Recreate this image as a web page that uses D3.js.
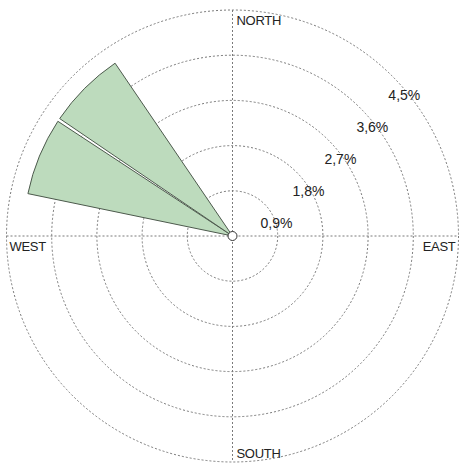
<!DOCTYPE html>
<html>
<head>
<meta charset="utf-8">
<script src="https://cdn.jsdelivr.net/npm/d3@7"></script>
<style>
html,body{margin:0;padding:0;background:#fff;}
svg{display:block;}
</style>
</head>
<body>
<svg id="chart" width="460" height="463"></svg>
<script>
// ---- data ----
const directions = ["N","NNE","NE","ENE","E","ESE","SE","SSE","S","SSW","SW","WSW","W","WNW","NW","NNW"];
const frequencies = [0,0,0,0,0,0,0,0,0,0,0,0,0,4.16,4.16,0];
const ringValues = [0.9,1.8,2.7,3.6,4.5];
const ringLabels = ["0,9%","1,8%","2,7%","3,6%","4,5%"];
const cardinalNames = ["NORTH","EAST","SOUTH","WEST"];

// ---- layout ----
const svg = d3.select("#chart");
const cx = 232.5, cy = 236, R = 226;
const r = d3.scaleLinear().domain([0, 4.5]).range([0, R]);
const step = 2 * Math.PI / directions.length;
const pad = 0.45 * Math.PI / 180;

const g = svg.append("g").attr("transform", `translate(${cx},${cy})`);

// grid circles
g.selectAll("circle.ring").data(ringValues).join("circle")
  .attr("class","ring")
  .attr("r", d => r(d))
  .attr("fill","none")
  .attr("stroke","#7a7a7a")
  .attr("stroke-width",1)
  .attr("stroke-dasharray","2,2");

// axes lines
g.append("line").attr("x1",0).attr("x2",0).attr("y1",-R).attr("y2",R)
  .attr("stroke","#7a7a7a").attr("stroke-width",1).attr("stroke-dasharray","2,2");
g.append("line").attr("x1",-R).attr("x2",R).attr("y1",0).attr("y2",0)
  .attr("stroke","#7a7a7a").attr("stroke-width",1).attr("stroke-dasharray","2,2");

// petals
const arc = d3.arc().innerRadius(0);
g.selectAll("path.petal").data(directions.map((d,i)=>({dir:d, v:frequencies[i], i})).filter(d=>d.v>0))
  .join("path")
  .attr("class","petal")
  .attr("d", d => arc({outerRadius: r(d.v), startAngle: d.i*step - step/2 + pad, endAngle: d.i*step + step/2 - pad}))
  .attr("fill","#bddbbd")
  .attr("stroke","#4d5a4d")
  .attr("stroke-width",1);

// center circle
g.append("circle").attr("r",4.5).attr("fill","#fff").attr("stroke","#333").attr("stroke-width",1);

// ring labels
const k = Math.SQRT1_2;
g.selectAll("text.rl").data(ringValues).join("text")
  .attr("class","rl")
  .attr("x", d => r(d)*k + 12)
  .attr("y", d => -r(d)*k + 24)
  .attr("text-anchor","middle")
  .attr("font-family","Liberation Sans, Arial, sans-serif")
  .attr("font-size",14)
  .attr("fill","#222")
  .text((d,i) => ringLabels[i]);

// cardinal labels
const cardPos = [
  {x: 4, y: -R + 15, anchor: "start"},
  {x: R - 3, y: 15, anchor: "end"},
  {x: 4, y: R - 4, anchor: "start"},
  {x: -R + 3, y: 15, anchor: "start"}
];
g.selectAll("text.card").data(cardinalNames).join("text")
  .attr("class","card")
  .attr("x", (d,i) => cardPos[i].x)
  .attr("y", (d,i) => cardPos[i].y)
  .attr("text-anchor", (d,i) => cardPos[i].anchor)
  .attr("font-family","Liberation Sans, Arial, sans-serif")
  .attr("font-size",13)
  .attr("letter-spacing","-0.3")
  .attr("fill","#222")
  .text(d => d);
</script>
</body>
</html>
